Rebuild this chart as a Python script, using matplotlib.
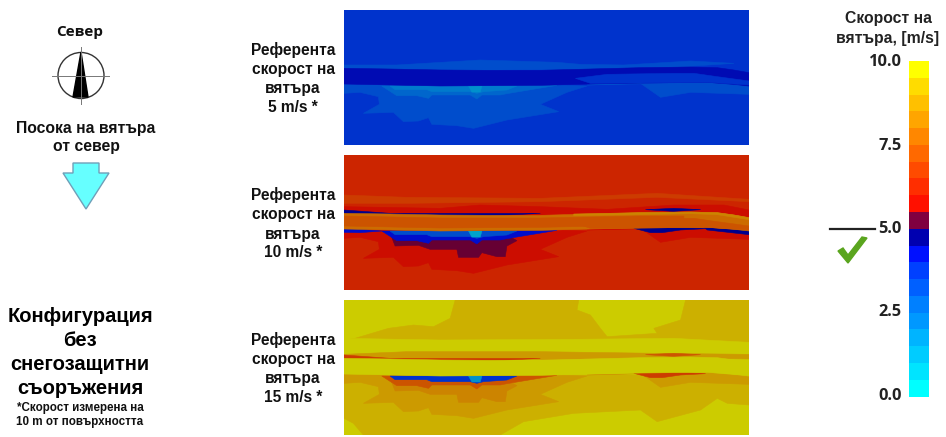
import numpy as np
import matplotlib
matplotlib.use("Agg")
import matplotlib.pyplot as plt
from matplotlib.colors import BoundaryNorm, ListedColormap

# colour scale
LEVELS = np.arange(0, 10.5, 0.5)
LEVEL_COLORS = ["#00ffff", "#00e4ff", "#00ccff", "#00b4ff", "#0098ff", "#0080ff", "#0060ff", "#0040ff",
                "#0010ff", "#0000b0", "#800040", "#ff1000", "#ff2e00", "#ff4b00", "#ff6900", "#ff8700",
                "#ffa500", "#ffc000", "#ffdc00", "#ffff00"]
TICKS = [0.0, 2.5, 5.0, 7.5, 10.0]

# contours of the speed regions
BAND_X = [12, 150, 300, 450, 600, 750, 900, 1050, 1130, 1180, 1225, 1225, 1180, 1100, 900, 750, 600, 300, 12]
BAND_Y = [190, 192, 195, 196, 196, 192, 188, 186, 188, 195, 203, 243, 238, 232, 234, 237, 241, 243, 237]
BAND_EDGE_X = [700, 900, 1050, 1130, 1180, 1225, 1225, 1130, 1050, 900, 700]
BAND_EDGE_Y = [192, 188, 186, 188, 195, 203, 209, 194, 191, 194, 197]
BAND_INNER_X = [705, 800, 1000, 1060, 1130, 1225, 1225, 1100, 900, 750]
BAND_INNER_Y = [220, 208, 205, 205, 215, 228, 240, 232, 234, 235]
BAND_CORE_X = [12, 300, 600, 900, 1030, 1030, 900, 600, 300, 12]
BAND_CORE_Y = [198, 204, 204, 198, 198, 222, 226, 232, 234, 228]
WAKE_X = [12, 12, 60, 115, 118, 70, 160, 190, 235, 265, 275, 350, 400, 500, 655, 600, 680, 740, 600, 300]
WAKE_Y = [238, 265, 262, 275, 298, 325, 322, 350, 348, 338, 358, 362, 370, 345, 320, 298, 262, 243, 240, 243]
RIGHT_WAKE_X = [740, 900, 960, 1050, 1225, 1225, 1100]
RIGHT_WAKE_Y = [240, 235, 277, 262, 268, 245, 232]
RIDGE_X = [125, 170, 230, 265, 275, 390, 410, 425, 480, 500, 560, 650, 400]
RIDGE_Y = [243, 272, 272, 280, 270, 270, 282, 270, 270, 266, 256, 241, 243]
DEEP_X = [155, 165, 235, 270, 280, 350, 355, 415, 425, 470, 495, 500, 530, 500, 155]
DEEP_Y = [262, 288, 286, 298, 298, 298, 322, 322, 308, 320, 320, 288, 272, 255, 255]
CORE_X = [150, 165, 260, 275, 390, 410, 430, 500, 530]
CORE_Y = [243, 254, 254, 260, 260, 265, 260, 255, 243]
TEAL_X = [385, 395, 420, 425]
TEAL_Y = [243, 261, 261, 243]
RIGHT_CORE_X = [880, 930, 965, 1020, 1095, 1000]
RIGHT_CORE_Y = [235, 248, 248, 240, 236, 231]
TOP_LINE_X = [12, 150, 300, 600, 450, 170, 12]
TOP_LINE_Y = [180, 190, 190, 190, 198, 197, 192]
TOP_RIGHT_X = [915, 1000, 1080, 1000]
TOP_RIGHT_Y = [179, 175, 179, 184]
LOW_LEFT_X = [12, 60, 125, 60, 12]
LOW_LEFT_Y = [236, 238, 243, 248, 247]
LOW_RIGHT_X = [1090, 1225, 1225, 1100]
LOW_RIGHT_Y = [232, 242, 254, 240]
STRIP1_X = [12, 170, 420, 650, 720, 850, 1050, 1180, 1000, 750, 400, 12]
STRIP1_Y = [180, 180, 165, 172, 178, 180, 168, 175, 187, 192, 196, 190]
HALO_X = [12, 300, 420, 600, 800, 1000, 1150, 1225, 1225, 800, 300, 12]
HALO_Y = [170, 175, 165, 170, 178, 165, 165, 180, 205, 200, 200, 195]
STRIP2_X = [12, 200, 600, 950, 1225, 1225, 950, 600, 200, 12]
STRIP2_Y = [135, 142, 145, 130, 148, 155, 142, 155, 160, 160]
STRIP3_X = [12, 300, 700, 1000, 1225, 1225, 1080, 800, 300, 12]
STRIP3_Y = [130, 135, 133, 130, 142, 170, 170, 185, 165, 175]
UNDER_X = [12, 200, 600, 950, 1225, 1225, 950, 600, 12]
UNDER_Y = [178, 170, 170, 175, 178, 192, 188, 194, 190]
TOP_DARK_X = [345, 715, 710, 750, 780, 800, 950, 940, 1020, 1035, 1225, 1225, 12, 45, 145, 220, 280, 330]
TOP_DARK_Y = [15, 15, 45, 60, 100, 125, 115, 100, 75, 15, 15, 142, 135, 130, 100, 90, 95, 70]
LOW_DARK_X = [12, 1225, 1225, 1160, 1130, 1080, 950, 900, 700, 550, 480, 70, 40, 12]
LOW_DARK_Y = [240, 240, 330, 325, 310, 345, 380, 345, 355, 380, 420, 420, 385, 370]

SHAPES = {"band": (BAND_X, BAND_Y), "edge": (BAND_EDGE_X, BAND_EDGE_Y), "inner": (BAND_INNER_X, BAND_INNER_Y),
          "bandcore": (BAND_CORE_X, BAND_CORE_Y),
          "wake": (WAKE_X, WAKE_Y), "rwake": (RIGHT_WAKE_X, RIGHT_WAKE_Y), "ridge": (RIDGE_X, RIDGE_Y),
          "deep": (DEEP_X, DEEP_Y), "core": (CORE_X, CORE_Y), "teal": (TEAL_X, TEAL_Y),
          "rcore": (RIGHT_CORE_X, RIGHT_CORE_Y), "topline": (TOP_LINE_X, TOP_LINE_Y),
          "topright": (TOP_RIGHT_X, TOP_RIGHT_Y), "lowleft": (LOW_LEFT_X, LOW_LEFT_Y),
          "lowright": (LOW_RIGHT_X, LOW_RIGHT_Y), "strip1": (STRIP1_X, STRIP1_Y), "halo": (HALO_X, HALO_Y),
          "strip2": (STRIP2_X, STRIP2_Y), "strip3": (STRIP3_X, STRIP3_Y), "under": (UNDER_X, UNDER_Y),
          "topdark": (TOP_DARK_X, TOP_DARK_Y), "lowdark": (LOW_DARK_X, LOW_DARK_Y)}

# speed in each region, painted in this order
PANEL_5 = [("strip1", 3.25), ("wake", 3.25), ("rwake", 3.25), ("ridge", 2.75), ("core", 2.25), ("teal", 1.75),
           ("band", 4.25), ("inner", 3.75)]
PANEL_10 = [("strip2", 6.75), ("halo", 5.75), ("wake", 5.75), ("rwake", 5.75), ("deep", 5.25), ("ridge", 4.25),
            ("core", 3.25), ("teal", 1.25), ("rcore", 4.75), ("topline", 4.75), ("topright", 4.75),
            ("lowleft", 4.25), ("lowright", 4.75),
            ("band", 7.75), ("bandcore", 7.25), ("inner", 7.25), ("edge", 8.25)]
PANEL_15 = [("topdark", 9.25), ("strip3", 9.75), ("under", 8.75), ("lowdark", 9.25), ("wake", 8.75),
            ("rwake", 8.75), ("deep", 8.25), ("ridge", 7.25), ("core", 3.75), ("teal", 1.75), ("rcore", 6.75),
            ("topline", 6.75), ("topright", 7.25), ("band", 9.75)]
BACKGROUND = [3.75, 6.25, 9.75]
BAND_SHADE = [0.7, 0.8, 0.8]
PANEL_TOPS = [10, 155, 300]
PANEL_LABELS = ["5 m/s *", "10 m/s *", "15 m/s *"]

SANS = "Liberation Sans"
cmap = ListedColormap(LEVEL_COLORS)
norm = BoundaryNorm(LEVELS, cmap.N)


def shaded(speed, k=0.8):
    # the panels are the same scale rendered a bit darker
    r, g, b, _ = cmap(norm(speed))
    return (r * k, g * k, b * k)


def draw_panel(top, bg, regions, band_k):
    ax = fig.add_axes([344 / 946, 1 - (top + 135) / 437, 405 / 946, 135 / 437])
    ax.set_xlim(12, 1225)
    ax.set_ylim(420, 15)
    ax.set_facecolor(shaded(bg))
    for name, speed in regions:
        xs, ys = SHAPES[name]
        k = band_k if name == "band" else 0.8
        ax.fill(xs, ys, color=shaded(speed, k), lw=0.4)
    ax.set_xticks([])
    ax.set_yticks([])
    for s in ax.spines.values():
        s.set_visible(False)


fig = plt.figure(figsize=(9.46, 4.37), dpi=100)

page = fig.add_axes([0, 0, 1, 1])
page.set_xlim(0, 946)
page.set_ylim(437, 0)
page.axis("off")

for top, bg, regions, k in zip(PANEL_TOPS, BACKGROUND, [PANEL_5, PANEL_10, PANEL_15], BAND_SHADE):
    draw_panel(top, bg, regions, k)

# panel captions
for top, label in zip(PANEL_TOPS, PANEL_LABELS):
    for dy, line in zip([40, 59.5, 79, 97.5], ["Референта", "скорост на", "вятъра", label]):
        page.text(293, top + dy, line, family=SANS, weight="bold", fontsize=11.2, ha="center", va="center", color="#111111")

# left column
page.text(80, 32, "Север", family="Open Sans", weight="bold", fontsize=11, ha="center", va="center", color="#111111")
page.text(86, 128, "Посока на вятъра", family=SANS, weight="bold", fontsize=11.3, ha="center", va="center", color="#111111")
page.text(86, 147, "от север", family=SANS, weight="bold", fontsize=11.3, ha="center", va="center", color="#111111")
for y, line in zip([316, 340, 364, 389], ["Конфигурация", "без", "снегозащитни", "съоръжения"]):
    page.text(80, y, line, family=SANS, weight="bold", fontsize=14.5, ha="center", va="center", color="black")
page.text(80, 408, "*Скорост измерена на", family=SANS, weight="bold", fontsize=8.4, ha="center", va="center", color="#111111")
page.text(80, 422, "10 m от повърхността", family=SANS, weight="bold", fontsize=8.4, ha="center", va="center", color="#111111")

# north sign
page.add_patch(plt.Circle((81, 75.5), 23, fill=False, ec="#333333", lw=1))
page.plot([52, 109], [75.5, 75.5], color="#777777", lw=0.7)
page.plot([81, 81], [47, 104], color="#777777", lw=0.7)
page.fill([81, 73, 88], [52, 97, 97], color="black")

# wind arrow
page.fill([73, 99, 99, 109, 86, 63, 73], [163, 163, 173, 173, 209, 173, 173], fc="#66ffff", ec="#6f9fb8", lw=1)

# colour bar
bar = fig.add_axes([908.5 / 946, 1 - 396.5 / 437, 20 / 946, 335.5 / 437])
bar.pcolormesh([0, 1], LEVELS, (LEVELS[:-1] + 0.25).reshape(-1, 1), cmap=cmap, norm=norm)
bar.set_xticks([])
bar.set_yticks([])
for s in bar.spines.values():
    s.set_visible(False)

for t in TICKS:
    page.text(902, 396 - 33.4 * t, f"{t:.1f}", family="Open Sans", weight="bold", fontsize=11.8, ha="right", va="center", color="#222222")
page.text(888, 19, "Скорост на", family=SANS, weight="bold", fontsize=11.3, ha="center", va="center", color="#222222")
page.text(888, 38, "вятъра, [m/s]", family=SANS, weight="bold", fontsize=11.3, ha="center", va="center", color="#222222")

# reference line and check mark
page.plot([830, 875], [229, 229], color="#222222", lw=1.6)
page.fill([838, 843, 848, 862, 867, 848], [251, 248, 255, 237, 238, 263], color="#5aa51e")

fig.savefig("out.png", dpi=100)
